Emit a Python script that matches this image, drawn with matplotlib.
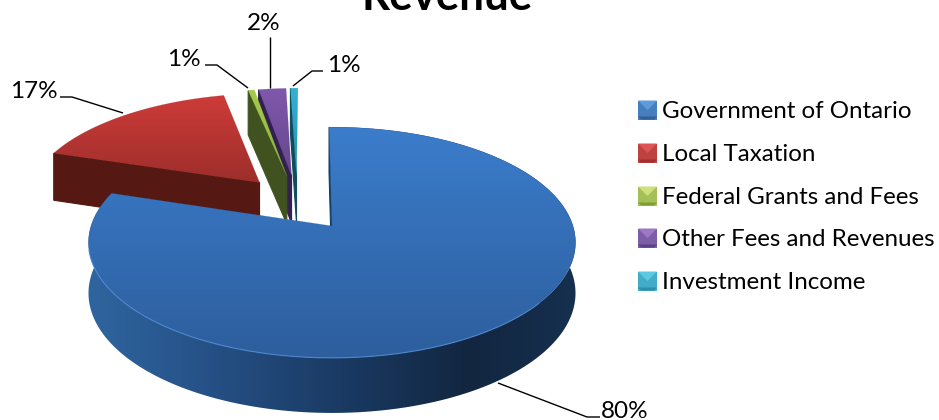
import numpy as np
import matplotlib
matplotlib.use("Agg")
import matplotlib.pyplot as plt
from matplotlib.patches import Polygon
from matplotlib.colors import to_rgb, LinearSegmentedColormap

categories = ["Government of Ontario", "Local Taxation", "Federal Grants and Fees",
              "Other Fees and Revenues", "Investment Income"]
values = [80.1, 16.6, 0.5, 2.2, 0.6]
labels = ["80%", "17%", "1%", "2%", "1%"]
title = "Revenue"

top_colors = [("#3B7DCC", "#2D5E9D"), ("#CE3C39", "#9D2E2B"), ("#A6CC4A", "#8DB03C"),
              ("#8058AC", "#64468C"), ("#33B2D4", "#2A8FAB")]
face_colors = ["#123F63", "#551813", "#3F5220", "#32204F", "#0F4C5E"]
legend_colors = [("#5E9BDD", "#2F609C"), ("#DB5553", "#A0302D"), ("#CDE07A", "#7F9F35"),
                 ("#9C79C4", "#5D4185"), ("#5CC9E3", "#2A8FAB")]

FONT = ["Lato", "DejaVu Sans"]
W, H = 939, 420
fig = plt.figure(figsize=(W / 100, H / 100), dpi=100)
ax = fig.add_axes([0, 0, 1, 1])
ax.set_xlim(0, W)
ax.set_ylim(H, 0)
ax.axis("off")

# Projection of the pie disc
CX, CY, A, B, K = 332.0, 226.0, 241.0, 113.0, 1 / 7
EX, EY = 0.25, 0.265
ROT = -0.8


def project(u, v):
    w = 1 - K * v
    return CX + A * u / w, CY + B * v / w, w


def depth(w):
    return 50 / w ** 0.63


fr = np.array(values) / sum(values)
edges = np.concatenate([[0], np.cumsum(fr)]) * 360 + ROT
mid0 = np.radians((edges[0] + edges[1]) / 2)
off0 = np.array([EX * np.sin(mid0), -EY * np.cos(mid0)])


def wedge(i, n=240):
    mid = np.radians((edges[i] + edges[i + 1]) / 2)
    off = np.array([EX * np.sin(mid), -EY * np.cos(mid)]) - off0
    th = np.radians(np.linspace(edges[i], edges[i + 1], n))
    return off, off[0] + np.sin(th), off[1] - np.cos(th)


def clipped_image(poly, data, cmap, zorder):
    ys = poly[:, 1]
    im = ax.imshow(data, cmap=cmap, aspect="auto", vmin=0, vmax=1,
                   extent=(poly[:, 0].min() - 1, poly[:, 0].max() + 1, ys.max() + 1, ys.min() - 1),
                   zorder=zorder, interpolation="bilinear")
    patch = Polygon(poly, closed=True, transform=ax.transData, facecolor="none", edgecolor="none")
    ax.add_patch(patch)
    im.set_clip_path(patch)


def gradient(poly, c_top, c_bot, zorder):
    cmap = LinearSegmentedColormap.from_list("g", [c_top, c_bot])
    clipped_image(poly, np.linspace(0, 1, 256)[:, None], cmap, zorder)
    ax.add_patch(Polygon(poly, closed=True, fill=False, edgecolor=c_bot, lw=0.3, alpha=0.4, zorder=zorder))


def start_face(i, zorder):
    off, us, vs = wedge(i, 2)
    x1, y1, w1 = project(us[0], vs[0])
    x0, y0, w0 = project(off[0], off[1])
    pts = [(x1, y1), (x0, y0), (x0, y0 + depth(w0)), (x1, y1 + depth(w1))]
    ax.add_patch(Polygon(pts, closed=True, facecolor=face_colors[i], edgecolor=face_colors[i],
                         lw=0.8, zorder=zorder))


# back slices, drawn back to front
z = 2
for i in [1, 4, 3, 2]:
    start_face(i, z)
    off, us, vs = wedge(i)
    X, Y, _ = project(us, vs)
    x0, y0, _ = project(off[0], off[1])
    poly = np.vstack([[x0, y0], np.column_stack([X, Y])])
    gradient(poly, top_colors[i][0], top_colors[i][1], z + 1)
    z += 2

# main slice: side wall
off, us, vs = wedge(0, 480)
X, Y, Wt = project(us, vs)
Yb = Y + depth(Wt)
wall = np.vstack([np.column_stack([X, Y]), np.column_stack([X, Yb])[::-1]])
wall_cmap = LinearSegmentedColormap.from_list(
    "wall", [(0.0, "#2F659F"), (0.23, "#265288"), (0.52, "#1A3A63"), (0.78, "#122640"), (1.0, "#16304F")])
clipped_image(wall, np.linspace(0, 1, 512)[None, :], wall_cmap, z)
z += 1
start_face(0, z)
z += 1
x0, y0, _ = project(off[0], off[1])
poly0 = np.vstack([[x0, y0], np.column_stack([X, Y])])
gradient(poly0, top_colors[0][0], top_colors[0][1], z)
front = (Y > 250) & (X < 540)
ax.plot(X[front], Y[front], color="#4C88D2", lw=0.9, zorder=z + 1, alpha=0.8)

# leader lines
leaders = [
    ([498, 587, 600], [383, 417, 417]),
    ([60, 72, 123], [97, 97, 113]),
    ([205, 217, 248], [65, 65, 88]),
    ([270, 270], [37, 88]),
    ([323, 312, 293], [71, 71, 86]),
]
for lx, ly in leaders:
    ax.plot(lx, ly, color="black", lw=1.0, zorder=30, solid_capstyle="butt")

label_pos = [(625, 411), (34, 92), (184, 60), (264, 24), (344, 66)]
for t, (lx, ly) in zip(labels, label_pos):
    ax.text(lx, ly, t, fontsize=17.5, family=FONT, ha="center", va="center", color="black", zorder=31)

# title, cut by the top edge as in the source
ax.text(447.5, 10, title, fontsize=31.6, fontweight="bold", family=FONT, ha="center",
        va="baseline", color="black", zorder=31)

# legend
legend_y = [110, 153, 196, 238, 281]
S = 9.5
LX = 647.5
for name, (c_light, c_dark), ly in zip(categories, legend_colors, legend_y):
    c_mid = tuple((np.array(to_rgb(c_light)) + np.array(to_rgb(c_dark))) / 2)
    L, R, T, Bm = LX - S, LX + S, ly - S, ly + S
    ax.add_patch(Polygon([(L, T), (R, T), (R, Bm), (L, Bm)], closed=True, facecolor=c_mid,
                         edgecolor="none", zorder=20))
    ax.add_patch(Polygon([(L, T), (R, T), (LX, ly)], closed=True, facecolor=c_light,
                         edgecolor="none", zorder=21))
    ax.add_patch(Polygon([(L + 3, Bm), (R - 3, Bm), (R, Bm - 3), (L, Bm - 3)], closed=True,
                         facecolor=c_dark, edgecolor="none", zorder=21))
    ax.text(662, ly + 1.5, name, fontsize=17.4, family=FONT, ha="left", va="center", color="black", zorder=31)

ax.set_xlim(0, W)
ax.set_ylim(H, 0)
fig.savefig("out.png", dpi=100, facecolor="white")
